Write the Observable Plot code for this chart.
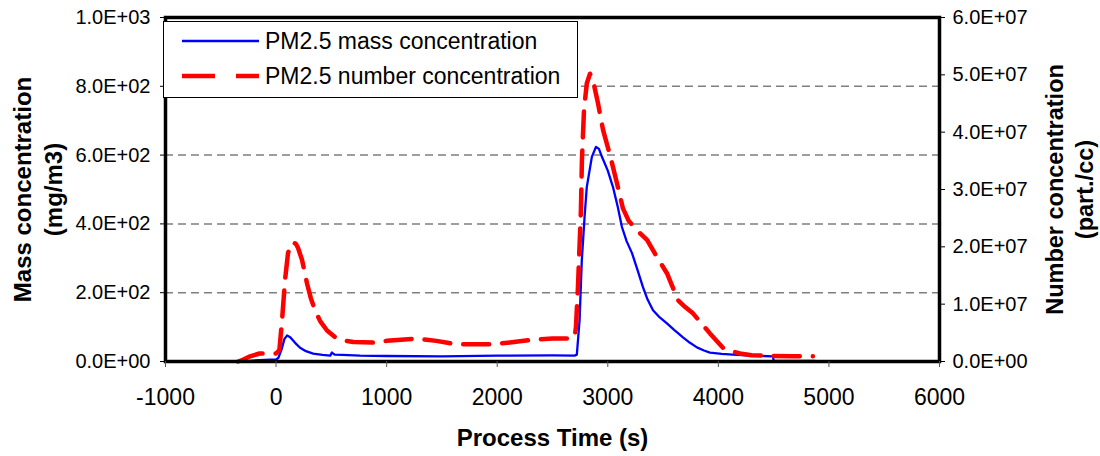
<!DOCTYPE html>
<html>
<head>
<meta charset="utf-8">
<script src="https://cdn.jsdelivr.net/npm/d3@7"></script>
<script src="https://cdn.jsdelivr.net/npm/@observablehq/plot@0.6"></script>
<style>
  html, body { margin: 0; padding: 0; background: #fff; }
  #wrap { position: relative; width: 1100px; height: 456px; font-family: "Liberation Sans", Arial, sans-serif; }
  #legend { position: absolute; left: 163px; top: 21px; }
</style>
</head>
<body>
<div id="wrap"></div>
<script>
// ---- data ----
const seriesNames = ["PM2.5 mass concentration", "PM2.5 number concentration"];

// blue: PM2.5 mass concentration (mg/m3), left axis
const massTime = [-344, -250, -150, 0, 20, 50, 75, 100, 130, 170, 217, 270, 335, 420, 490, 505, 530, 600, 760, 1000, 1500, 2000, 2500, 2700, 2720, 2745, 2765, 2790, 2810, 2856, 2893, 2920, 2947, 3000, 3047, 3090, 3128, 3170, 3219, 3270, 3318, 3360, 3409, 3470, 3535, 3600, 3680, 3740, 3806, 3870, 3924, 4030, 4132, 4300, 4494, 4500, 4873];
const massValue = [0, 2, 4, 6, 10, 35, 65, 76, 70, 55, 40, 30, 23, 19, 17, 26, 20, 19, 17, 16, 15, 17, 18, 17, 20, 120, 294, 420, 507, 595, 624, 618, 595, 555, 507, 450, 391, 350, 315, 265, 216, 180, 149, 128, 111, 92, 70, 55, 41, 32, 26, 22, 20, 17, 15, 2, 2];

// red: PM2.5 number concentration (part./cc), right axis
const numTime = [-344, -300, -235, -150, -118, 0, 30, 54, 81, 108, 135, 154, 180, 199, 235, 280, 315, 353, 400, 461, 530, 606, 700, 877, 1000, 1275, 1450, 1637, 1800, 1962, 2150, 2324, 2500, 2631, 2700, 2712, 2730, 2757, 2766, 2785, 2810, 2839, 2866, 2911, 2957, 3020, 3083, 3137, 3190, 3246, 3300, 3355, 3445, 3535, 3635, 3700, 3770, 3850, 3924, 4042, 4120, 4195, 4300, 4439, 4675, 4855];
const numValue = [0, 0.03e7, 0.09e7, 0.14e7, 0.14e7, 0.14e7, 0.2e7, 0.72e7, 1.42e7, 1.89e7, 2.05e7, 2.08e7, 2.05e7, 1.98e7, 1.77e7, 1.36e7, 1.1e7, 0.89e7, 0.7e7, 0.54e7, 0.43e7, 0.37e7, 0.34e7, 0.33e7, 0.36e7, 0.4e7, 0.36e7, 0.3e7, 0.3e7, 0.3e7, 0.34e7, 0.38e7, 0.4e7, 0.4e7, 0.42e7, 0.6e7, 1.29e7, 2.64e7, 3.51e7, 4.39e7, 4.85e7, 5.02e7, 4.91e7, 4.51e7, 4.04e7, 3.6e7, 3.11e7, 2.67e7, 2.45e7, 2.33e7, 2.22e7, 2.12e7, 1.82e7, 1.54e7, 1.07e7, 0.95e7, 0.84e7, 0.66e7, 0.49e7, 0.24e7, 0.18e7, 0.14e7, 0.11e7, 0.1e7, 0.09e7, 0.09e7];

// axes
const xTicks = [-1000, 0, 1000, 2000, 3000, 4000, 5000, 6000];
const massTicks = [0, 200, 400, 600, 800, 1000];
const massTickLabels = ["0.0E+00", "2.0E+02", "4.0E+02", "6.0E+02", "8.0E+02", "1.0E+03"];
const numTicks = [0, 1e7, 2e7, 3e7, 4e7, 5e7, 6e7];
const numTickLabels = ["0.0E+00", "1.0E+07", "2.0E+07", "3.0E+07", "4.0E+07", "5.0E+07", "6.0E+07"];
const gridLevels = [200, 400, 600, 800];
const massMax = 1000, numMax = 6e7;

// ---- build ----
const massData = massTime.map((t, i) => ({t, v: massValue[i]}));
const numData = numTime.map((t, i) => ({t, v: numValue[i]}));
const toLeft = n => n / numMax * massMax;

const chart = Plot.plot({
  width: 1100,
  height: 456,
  marginLeft: 165,
  marginRight: 161,
  marginTop: 17,
  marginBottom: 95,
  style: {fontFamily: "'Liberation Sans', Arial, sans-serif", fontSize: "20px", color: "#000", background: "#fff"},
  x: {domain: [-1000, 6000]},
  y: {domain: [0, massMax]},
  marks: [
    Plot.ruleY(gridLevels, {stroke: "#7f7f7f", strokeWidth: 1.5, strokeDasharray: "8,5"}),
    Plot.line(massData, {x: "t", y: "v", stroke: "#0000ff", strokeWidth: 2.3}),
    Plot.line(numData, {x: "t", y: d => toLeft(d.v), stroke: "#ff0000", strokeWidth: 4.5, strokeDasharray: "26,13"}),
    Plot.frame({stroke: "#000", strokeWidth: 3.5}),
    Plot.axisX({ticks: xTicks, tickSize: 6, tickPadding: 21, fontSize: 23, label: null, stroke: "#555", tickFormat: d => String(d)}),
    Plot.axisY({ticks: massTicks, anchor: "left", tickSize: 5, tickPadding: 10, fontSize: 20, label: null,
      tickFormat: d => massTickLabels[massTicks.indexOf(d)]}),
    Plot.axisY({ticks: numTicks.map(toLeft), anchor: "right", tickSize: 5, tickPadding: 8, fontSize: 20, label: null,
      tickFormat: (d, i) => numTickLabels[i]}),
    Plot.text(["Mass concentration\n(mg/m3)"], {frameAnchor: "left", dx: -129, rotate: -90, textAnchor: "middle", lineAnchor: "middle", fontSize: 24, fontWeight: "bold", lineHeight: 1.3}),
    Plot.text(["Number concentration\n(part./cc)"], {frameAnchor: "right", dx: 129, rotate: -90, textAnchor: "middle", lineAnchor: "middle", fontSize: 23.5, fontWeight: "bold", lineHeight: 1.25}),
    Plot.text(["Process Time (s)"], {frameAnchor: "bottom", dy: 77, textAnchor: "middle", lineAnchor: "middle", fontSize: 24, fontWeight: "bold"})
  ]
});

const wrap = document.getElementById("wrap");
wrap.appendChild(chart);

// legend overlay
const ns = "http://www.w3.org/2000/svg";
const leg = document.createElementNS(ns, "svg");
leg.setAttribute("id", "legend");
leg.setAttribute("width", 416);
leg.setAttribute("height", 78);
const legendStyles = [
  {stroke: "#0000ff", width: 2.3, dash: null},
  {stroke: "#ff0000", width: 4.5, dash: "33,21"}
];
let html = `<rect x="0.5" y="0.5" width="414" height="76" fill="#fff" stroke="#000" stroke-width="1"/>`;
seriesNames.forEach((name, i) => {
  const cy = 20 + i * 35;
  const s = legendStyles[i];
  html += `<line x1="19" x2="96" y1="${cy}" y2="${cy}" stroke="${s.stroke}" stroke-width="${s.width}" ${s.dash ? `stroke-dasharray="${s.dash}"` : ""}/>`;
  html += `<text x="102" y="${cy}" dy="0.35em" font-size="23" font-family="'Liberation Sans', Arial, sans-serif" fill="#000">${name}</text>`;
});
leg.innerHTML = html;
wrap.appendChild(leg);
</script>
</body>
</html>
